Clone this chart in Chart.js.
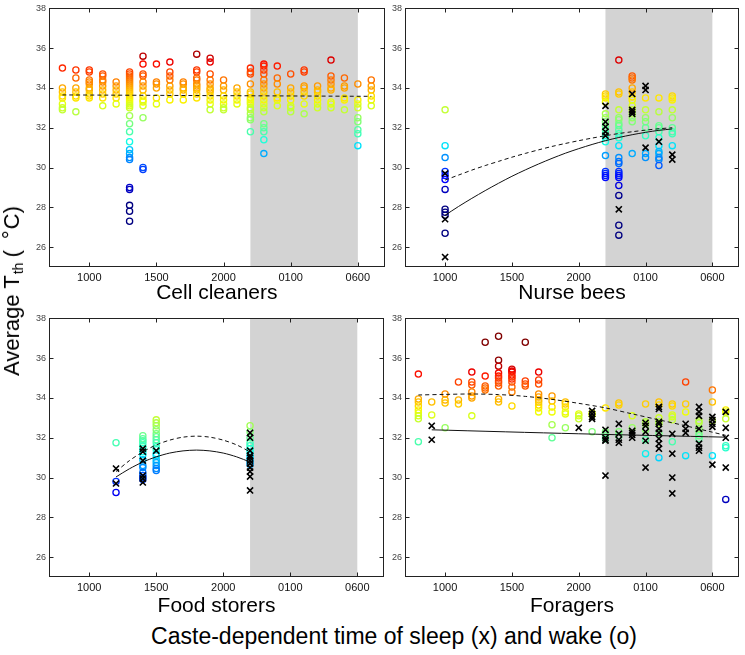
<!DOCTYPE html>
<html><head><meta charset="utf-8">
<script src="https://cdn.jsdelivr.net/npm/chart.js@4/dist/chart.umd.min.js"></script>
<style>
html,body{margin:0;padding:0;background:#fff;}
body{width:745px;height:655px;position:relative;overflow:hidden;font-family:"Liberation Sans",Arial,sans-serif;color:#000;}
.pane{position:absolute;}
.pane canvas{display:block;}
#ylab{position:absolute;left:15px;top:291px;transform:translate(-50%,-50%) rotate(-90deg);white-space:nowrap;font-size:22px;line-height:26px;}
#ylab sub{font-size:14px;vertical-align:-4px;margin-left:1px;margin-right:5px;}
#ylab .deg{display:inline-block;margin-left:11px;margin-right:1px;position:relative;top:-1px;}
#xlab{position:absolute;left:394px;top:625px;width:700px;margin-left:-350px;text-align:center;white-space:nowrap;font-size:23px;line-height:23px;}
</style></head>
<body>
<div class="pane" style="left:0;top:0"><canvas id="c1" width="390" height="310"></canvas></div>
<div class="pane" style="left:370px;top:0"><canvas id="c2" width="375" height="310"></canvas></div>
<div class="pane" style="left:0;top:310px"><canvas id="c3" width="390" height="310"></canvas></div>
<div class="pane" style="left:370px;top:310px"><canvas id="c4" width="375" height="310"></canvas></div>
<div id="ylab">Average T<sub>th</sub>(<span class="deg">°</span>C)</div>
<div id="xlab">Caste-dependent time of sleep (x) and wake (o)</div>
<script>
// ---------- axes ----------
const xTickValues = [10, 15, 20, 25, 30];
const xTickLabels = ['1000', '1500', '2000', '0100', '0600'];
const yTickValues = [26, 28, 30, 32, 34, 36, 38];
const nightStart = 22, nightEnd = 30;
const panelTitles = ['Cell cleaners', 'Nurse bees', 'Food storers', 'Foragers'];

// ---------- Cell cleaners ----------
const cleanerWakeHours = [8,9,10,11,12,13,14,15,16,17,18,19,20,21,22,23,24,25,26,27,28,29,30,31];
const cleanerWakeTemps = [
 [35.0,34.0,33.8,33.6,33.5,33.2,33.0,32.9],
 [34.9,34.5,34.0,33.8,33.6,33.5,32.8],
 [34.9,34.8,34.4,34.3,34.2,34.0,33.9,33.7,33.6,33.5],
 [34.7,34.6,34.4,34.3,34.1,33.9,33.7,33.5,33.1],
 [34.3,34.1,33.9,33.7,33.5,33.2],
 [34.8,34.7,34.6,34.5,34.4,34.3,34.2,34.1,34.0,33.9,33.8,33.7,33.6,33.5,33.4,33.3,33.2,33.1,33.0,32.6,32.2,31.8,31.3,30.9,30.7,30.5,30.4,29.0,28.9,28.1,27.8,27.3],
 [35.6,35.2,34.7,34.6,34.3,34.1,33.9,33.6,33.4,33.3,33.1,32.5,30.0,29.9],
 [35.2,34.3,34.2,34.0,33.5,33.2],
 [35.3,34.8,34.6,34.4,34.1,33.9,33.7,33.4],
 [34.3,34.2,34.0,33.9,33.7,33.4],
 [35.7,34.9,34.8,34.5,34.4,34.2,34.1,34.0,33.9,33.7,33.5],
 [35.5,35.3,34.7,34.4,34.2,34.0,33.9,33.8,33.6,33.4,33.2,32.9],
 [34.4,34.1,33.9,33.6,33.4,33.2,33.0,32.9],
 [34.0,33.8,33.6,33.4,33.2],
 [35.0,34.8,34.7,34.2,33.8,33.7,33.5,33.4,33.3,33.2,33.0,32.9,32.7,32.5,32.4,31.8],
 [35.2,35.1,34.9,34.7,34.4,34.2,34.0,33.8,33.6,33.4,33.2,33.0,32.8,32.2,32.0,31.8,31.4,30.7],
 [35.1,34.5,34.2,33.8,33.5,33.4,33.1],
 [34.7,34.0,33.8,33.6,33.4,33.1,33.0,32.8],
 [34.9,34.8,34.1,34.0,33.8,33.6,33.2,32.7],
 [34.1,33.9,33.8,33.6,33.4,33.2,33.0],
 [35.4,34.6,34.4,34.2,34.0,33.9,33.3,33.2,33.0],
 [34.5,34.1,34.0,33.5,33.4,32.9],
 [34.2,33.4,33.2,33.0,32.5,32.3,31.9,31.7,31.1],
 [34.4,34.1,33.9,33.6,33.4,33.1]
];
const cleanerWakeFitHours = [8, 31];
const cleanerWakeFit = [33.65, 33.58];

// ---------- Nurse bees ----------
const nurseWakeHours = [10,22,23,24,25,26,27];
const nurseWakeTemps = [
 [32.9,31.1,30.5,29.8,29.6,29.4,28.9,27.9,27.75,27.6,26.7],
 [33.7,33.6,33.5,33.3,32.7,32.5,32.3,32.1,31.9,31.7,31.5,31.3,30.6,29.8,29.7,29.6,29.5],
 [35.4,33.8,33.7,32.9,32.5,32.4,32.2,32.1,31.9,31.7,31.5,31.1,30.5,30.3,30.2,29.8,29.7,29.6,29.5,29.1,28.6,27.1,26.6],
 [34.6,34.5,34.4,34.0,33.8,33.55,33.4,33.1,32.9,32.7,32.5,32.3,30.7],
 [33.5,32.9,32.5,32.3,32.0,31.6,30.7,30.5],
 [33.5,32.8,32.1,32.0,31.8,31.5,31.1,30.8,30.7,30.5,30.4,30.1],
 [33.6,33.5,33.4,32.9,32.5,32.0,31.8,31.7,31.1]
];
const nurseSleepHours = [10,22,23,24,25,26,27];
const nurseSleepTemps = [
 [29.7,27.4,25.5],
 [33.1,32.3,32.05,31.8,31.6],
 [27.9],
 [33.7,32.9,32.8,32.7],
 [34.1,33.9,31.0],
 [31.3],
 [30.65,30.4]
];
const nurseFitHours = [10,11,12,13,14,15,16,17,18,19,20,21,22,23,24,25,26,27];
const nurseWakeFit = [29.37,29.62,29.87,30.10,30.31,30.52,30.71,30.89,31.06,31.21,31.35,31.48,31.60,31.71,31.80,31.88,31.95,32.00];
const nurseSleepFit = [27.60,28.04,28.45,28.84,29.21,29.56,29.88,30.18,30.46,30.72,30.95,31.16,31.35,31.51,31.65,31.77,31.87,31.94];

// ---------- Food storers ----------
const storerWakeHours = [12,14,15,22];
const storerWakeTemps = [
 [31.75,29.8,29.25],
 [32.1,31.95,31.85,31.75,31.6,31.45,31.3,31.15,30.9,30.6,30.5,30.25,30.1,30.0,29.9],
 [32.9,32.75,32.6,32.4,32.2,32.05,31.9,31.75,31.55,31.4,31.2,31.1,30.9,30.75,30.6,30.45,30.35],
 [32.6,32.3,32.0,31.75,31.6,31.45,31.3,31.1,30.95,30.8,30.65]
];
const storerSleepHours = [12,14,15,22];
const storerSleepTemps = [
 [30.45,29.7],
 [31.45,31.3,30.85,30.1,29.95,29.75],
 [31.35],
 [32.25,32.0,31.35,31.1,31.0,30.85,30.7,30.5,30.3,30.05,29.35]
];
const storerFitHours = [12,13,14,15,16,17,18,19,20,21,22];
const storerWakeFit = [30.30,30.85,31.29,31.64,31.88,32.03,32.08,32.03,31.88,31.64,31.29];
const storerSleepFit = [30.03,30.44,30.78,31.04,31.23,31.34,31.38,31.34,31.23,31.04,30.78];

// ---------- Foragers ----------
const foragerWakeHours = [8,9,10,11,12,13,14,15,16,17,18,19,20,21,22,23,24,25,26,27,28,29,30,31];
const foragerWakeTemps = [
 [35.2,33.95,33.8,33.6,33.4,33.25,33.1,32.95,31.8],
 [33.8,33.15],
 [34.2,33.9,33.75,32.5],
 [34.8,33.9,33.7],
 [35.3,34.8,34.65,34.3,34.1,34.0,33.1],
 [36.8,35.1,34.6,34.5,34.4],
 [37.1,35.9,35.6,35.25,35.1,35.0,34.85,34.75,34.6,33.95,33.8],
 [35.45,35.35,35.3,35.15,35.05,34.95,34.8,34.55,34.3,33.6],
 [36.8,34.85,34.7,34.6],
 [35.3,34.9,34.7,34.2,34.05,33.9,33.8,33.65,33.5,33.3],
 [34.1,33.85,33.55,33.3,32.65,32.0],
 [33.8,33.7,33.55,33.3,33.2,32.5],
 [33.2,33.1,32.95],
 [33.25,33.15,32.3],
 [33.5,32.3,32.2,32.1,31.95],
 [33.75,33.65,32.3,32.1],
 [33.1,32.5],
 [33.7,32.8,32.7,32.4,31.9,31.2],
 [33.8,33.65,33.0,32.8,32.7,32.2,31.0],
 [33.7,33.6,33.15,33.05,32.9,31.8],
 [34.8,33.7,33.3,31.1],
 [32.85,32.75,32.45,32.25,32.1,31.95],
 [34.4,33.8,32.85,31.1],
 [33.4,33.3,32.95,31.6,31.5,28.9]
];
const foragerSleepHours = [9,20,21,22,23,24,25,26,27,28,29,30,31];
const foragerSleepTemps = [
 [32.6,31.9],
 [32.5],
 [33.35,33.2,33.05,32.95],
 [32.4,32.0,31.9,31.85,30.1],
 [32.7,32.2,31.9,31.75],
 [32.35,32.25,32.15,32.0],
 [32.75,32.6,32.3,31.85,30.5],
 [33.55,33.45,32.8,32.7,32.45,32.25,31.95,31.7,31.45],
 [32.2,31.2,30.0,29.2],
 [32.7,32.45,32.25],
 [33.55,33.3,33.1,32.45,31.7,31.5,31.35],
 [33.05,32.9,32.7,32.55,30.65],
 [33.3,32.5,32.0,30.5]
];
const foragerWakeFitHours = [8,10,12,14,16,18,20,22,24,26,28,30,31];
const foragerWakeFit = [34.15,34.18,34.20,34.17,34.08,33.93,33.73,33.50,33.20,32.90,32.60,32.28,32.12];
const foragerSleepFitHours = [9,20,31];
const foragerSleepFit = [32.40,32.20,32.03];

// ---------- colour map (matplotlib jet) ----------
const VMIN = 28.5, VMAX = 36.0;
const JET = {
  r: [[0,0],[0.35,0],[0.66,1],[0.89,1],[1,0.5]],
  g: [[0,0],[0.125,0],[0.375,1],[0.64,1],[0.91,0],[1,0]],
  b: [[0,0.5],[0.11,1],[0.34,1],[0.65,0],[1,0]]
};
function seg(s, t) {
  for (let i = 1; i < s.length; i++) {
    if (t <= s[i][0]) {
      const f = (t - s[i-1][0]) / (s[i][0] - s[i-1][0]);
      return s[i-1][1] + f * (s[i][1] - s[i-1][1]);
    }
  }
  return s[s.length-1][1];
}
function jet(v) {
  let t = (v - VMIN) / (VMAX - VMIN);
  t = Math.max(0, Math.min(1, t));
  const c = k => Math.round(255 * seg(JET[k], t));
  return `rgb(${c('r')},${c('g')},${c('b')})`;
}

function pts(hours, temps) {
  const out = [];
  hours.forEach((h, i) => temps[i].forEach(t => out.push({x: h, y: t})));
  return out;
}
function curve(hours, vals) { return hours.map((h, i) => ({x: h, y: vals[i]})); }

// ---------- plugin: night shading + boxed frame with inward ticks ----------
const framePlugin = {
  id: 'frame',
  beforeDatasetsDraw(chart) {
    const {ctx, chartArea: a, scales: {x}} = chart;
    const x0 = x.getPixelForValue(nightStart), x1 = x.getPixelForValue(nightEnd);
    ctx.save();
    ctx.fillStyle = '#d3d3d3';
    ctx.fillRect(x0, a.top, x1 - x0, a.bottom - a.top);
    ctx.restore();
  },
  afterDatasetsDraw(chart) {
    const {ctx, chartArea: a, scales: {x, y}} = chart;
    const L = Math.round(a.left) + 0.5, R = Math.round(a.right) - 0.5;
    const T = Math.round(a.top) + 0.5, B = Math.round(a.bottom) - 0.5;
    ctx.save();
    ctx.strokeStyle = '#222';
    ctx.lineWidth = 1;
    ctx.strokeRect(L, T, R - L, B - T);
    ctx.beginPath();
    const tl = 4;
    xTickValues.forEach(v => {
      const px = Math.round(x.getPixelForValue(v)) + 0.5;
      ctx.moveTo(px, B); ctx.lineTo(px, B - tl);
      ctx.moveTo(px, T); ctx.lineTo(px, T + tl);
    });
    yTickValues.forEach(v => {
      const py = Math.round(y.getPixelForValue(v)) + 0.5;
      ctx.moveTo(L, py); ctx.lineTo(L + tl, py);
      ctx.moveTo(R, py); ctx.lineTo(R - tl, py);
    });
    ctx.stroke();
    ctx.restore();
  }
};

function makeChart(id, title, wake, sleep, wakeFit, sleepFit, yWidth, titlePadBottom) {
  const datasets = [];
  if (wakeFit) datasets.push({type: 'line', data: wakeFit, showLine: true, borderColor: '#111', borderWidth: 1,
    borderDash: [4, 3], pointRadius: 0, fill: false, tension: 0.3, order: 0});
  if (sleepFit) datasets.push({type: 'line', data: sleepFit, showLine: true, borderColor: '#111', borderWidth: 1,
    pointRadius: 0, fill: false, tension: 0.3, order: 0});
  if (sleep) datasets.push({type: 'scatter', data: sleep, pointStyle: 'crossRot', pointRadius: 4.3,
    pointBorderWidth: 1.6, borderColor: '#000', backgroundColor: '#000', order: 1});
  datasets.push({type: 'scatter', data: wake, pointStyle: 'circle', pointRadius: 3.1, pointBorderWidth: 1.3,
    backgroundColor: 'rgba(0,0,0,0)',
    borderColor: c => (c.raw ? jet(c.raw.y) : '#000'), order: 2});

  return new Chart(document.getElementById(id), {
    type: 'scatter',
    data: {datasets},
    options: {
      responsive: false, animation: false, devicePixelRatio: 1,
      layout: {padding: {top: 7, right: 5, left: 0, bottom: 0}},
      plugins: {legend: {display: false}, tooltip: {enabled: false}},
      scales: {
        x: {
          type: 'linear', min: 7, max: 32,
          afterBuildTicks: s => { s.ticks = xTickValues.map(v => ({value: v})); },
          afterFit: s => { s.height = 43; },
          grid: {display: false, drawTicks: false}, border: {display: false},
          ticks: {callback: (v, i) => xTickLabels[i], font: {family: 'Liberation Sans', size: 11},
            color: '#111', padding: 4, maxRotation: 0, autoSkip: false},
          title: {display: true, text: title, font: {family: 'Liberation Sans', size: 21}, color: '#000',
            padding: {top: 0, bottom: titlePadBottom}}
        },
        y: {
          type: 'linear', min: 25, max: 38,
          afterBuildTicks: s => { s.ticks = yTickValues.map(v => ({value: v})); },
          afterFit: s => { s.width = yWidth; },
          grid: {display: false, drawTicks: false}, border: {display: false},
          ticks: {font: {family: 'Liberation Sans', size: 9}, color: '#444', padding: 3}
        }
      }
    },
    plugins: [framePlugin]
  });
}

makeChart('c1', panelTitles[0], pts(cleanerWakeHours, cleanerWakeTemps), null,
  curve(cleanerWakeFitHours, cleanerWakeFit), null, 49, 4.4);
makeChart('c2', panelTitles[1], pts(nurseWakeHours, nurseWakeTemps), pts(nurseSleepHours, nurseSleepTemps),
  curve(nurseFitHours, nurseWakeFit), curve(nurseFitHours, nurseSleepFit), 35, 4.4);
makeChart('c3', panelTitles[2], pts(storerWakeHours, storerWakeTemps), pts(storerSleepHours, storerSleepTemps),
  curve(storerFitHours, storerWakeFit), curve(storerFitHours, storerSleepFit), 49, 1);
makeChart('c4', panelTitles[3], pts(foragerWakeHours, foragerWakeTemps), pts(foragerSleepHours, foragerSleepTemps),
  curve(foragerWakeFitHours, foragerWakeFit), curve(foragerSleepFitHours, foragerSleepFit), 35, 1);
</script>
</body></html>
